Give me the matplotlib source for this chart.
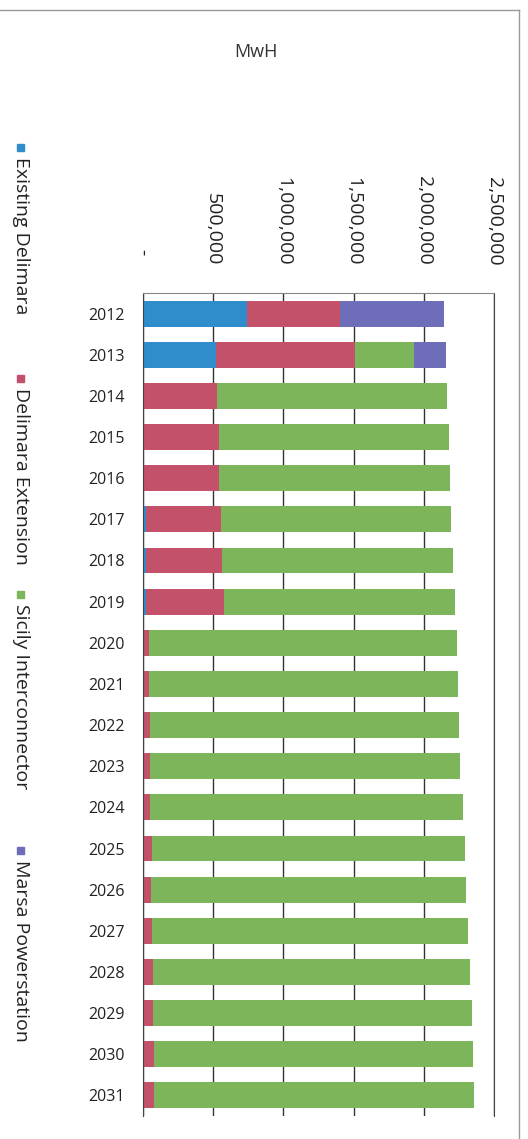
import matplotlib.pyplot as plt
from matplotlib.patches import Rectangle
from matplotlib.lines import Line2D

plt.rcParams['font.family'] = ['Open Sans', 'DejaVu Sans']

years = [str(y) for y in range(2012, 2032)]
existing_delimara = [744000, 517000, 8000, 8000, 8000, 22000, 22000, 22000,
                     0, 0, 0, 0, 0, 0, 0, 0, 0, 0, 0, 0]
delimara_extension = [662000, 991000, 516000, 530000, 535000, 531000, 542000, 552000,
                      43000, 43000, 50000, 52000, 50000, 62000, 59000, 62000,
                      73000, 73000, 76000, 80000]
sicily_interconnector = [0, 419000, 1643000, 1638000, 1642000, 1642000, 1641000, 1649000,
                         2192000, 2202000, 2204000, 2209000, 2230000, 2229000, 2240000,
                         2252000, 2257000, 2267000, 2273000, 2279000]
marsa_powerstation = [737000, 228000, 0, 0, 0, 0, 0, 0,
                      0, 0, 0, 0, 0, 0, 0, 0, 0, 0, 0, 0]

series = [
    ('Existing Delimara', existing_delimara, '#2F8DCB'),
    ('Delimara Extension', delimara_extension, '#C4516A'),
    ('Sicily Interconnector', sicily_interconnector, '#7DB55A'),
    ('Marsa Powerstation', marsa_powerstation, '#6E6DBA'),
]
xticks = [0, 500000, 1000000, 1500000, 2000000, 2500000]

W, H = 528, 1139
fig = plt.figure(figsize=(W / 100, H / 100), dpi=100)
ax = fig.add_axes([143 / W, 23 / H, (494 - 143) / W, (1116 - 293) / H])

pos = list(range(len(years)))
left = [0] * len(years)
for name, vals, col in series:
    ax.barh(pos, vals, left=left, height=0.63, color=col, zorder=2)
    left = [a + b for a, b in zip(left, vals)]

ax.set_xlim(0, 2500000)
ax.set_ylim(len(years) - 0.5, -0.5)
ax.set_axisbelow(True)
ax.grid(axis='x', color='#333333', lw=1)

ax.xaxis.tick_top()
ax.set_xticks(xticks)
ax.set_xticklabels(['-  '] + [f'{v:,}' for v in xticks[1:]],
                   rotation=-90, fontsize=14, color='#222222')
ax.tick_params(axis='x', length=0, pad=20)

ax.set_yticks(pos)
ax.set_yticklabels(years, fontsize=11.5, color='#222222')
ax.tick_params(axis='y', length=0, pad=13)

ax.spines['bottom'].set_visible(False)
ax.spines['top'].set_color('#888888')
ax.spines['left'].set_color('#444444')
ax.spines['right'].set_color('#444444')

# rotated legend down the left edge
legend_y = [147, 378, 594, 850]
for (name, vals, col), y in zip(series, legend_y):
    fig.patches.append(Rectangle(((17) / W, 1 - (y + 4) / H), 7 / W, 7 / H,
                                 transform=fig.transFigure, color=col))
    fig.text(21 / W, 1 - (y + 10) / H, name, rotation=-90, ha='center', va='top',
             fontsize=14, color='#222222')

fig.text(256 / W, 1 - 52 / H, 'MwH', ha='center', va='center', fontsize=13, color='#333333')

# chart frame
fig.lines.append(Line2D([0, 519 / W], [1 - 10 / H, 1 - 10 / H], transform=fig.transFigure,
                        color='#999999', lw=1))
fig.lines.append(Line2D([519 / W, 519 / W], [0, 1 - 10 / H], transform=fig.transFigure,
                        color='#999999', lw=1))

fig.savefig('out.png', dpi=100)
